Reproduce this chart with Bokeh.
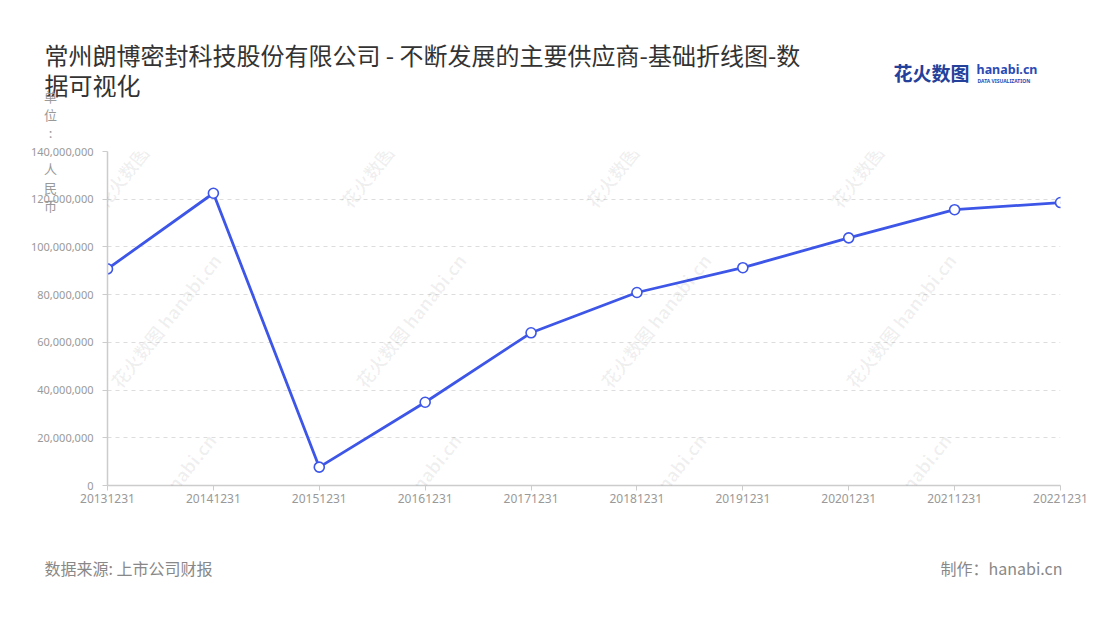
from bokeh.plotting import figure
from bokeh.models import Range1d, Label, NumeralTickFormatter, FixedTicker
from bokeh.embed import file_html
from bokeh.resources import INLINE

# ---- data ----
dates = ["20131231", "20141231", "20151231", "20161231", "20171231",
         "20181231", "20191231", "20201231", "20211231", "20221231"]
values = [90.8e6, 122.5e6, 7.7e6, 34.9e6, 64.0e6,
          80.9e6, 91.3e6, 103.8e6, 115.6e6, 118.6e6]
y_ticks = [0, 20e6, 40e6, 60e6, 80e6, 100e6, 120e6, 140e6]

title_text = "常州朗博密封科技股份有限公司 - 不断发展的主要供应商-基础折线图-数\n据可视化"
y_label = "单\n位\n:\n \n人\n民\n币"
source_text = "数据来源: 上市公司财报"
maker_text = "制作：hanabi.cn"

W, H = 1092, 612
FL, FR, FT, FB = 107, 1060, 151, 485  # frame edges (page px)
FONT = "Noto Sans CJK SC"
BLUE = "#3d56e8"


def lab(px, py, text, **kw):
    return Label(x=px, y=py, x_units="canvas", y_units="canvas", text=text, **kw)


xs = list(range(len(dates)))

p = figure(width=W, height=H, output_backend="svg", toolbar_location=None,
           x_range=Range1d(0, len(dates) - 1), y_range=Range1d(0, 140e6),
           min_border_left=FL, min_border_right=W - FR,
           min_border_top=FT, min_border_bottom=H - FB)
p.outline_line_color = None
p.background_fill_color = "white"
p.border_fill_color = "white"

# axes
p.xaxis.ticker = FixedTicker(ticks=xs)
p.xaxis.major_label_overrides = {i: d for i, d in enumerate(dates)}
p.yaxis.ticker = FixedTicker(ticks=y_ticks)
p.yaxis.formatter = NumeralTickFormatter(format="0,0")
for ax in (p.xaxis, p.yaxis):
    ax.axis_line_color = "#cccccc"
    ax.axis_line_width = 1.5
    ax.major_tick_line_color = "#cccccc"
    ax.major_tick_out = 5
    ax.major_tick_in = 0
    ax.minor_tick_line_color = None
    ax.major_label_text_color = "#999999"
    ax.major_label_text_font = "Noto Sans"
p.xaxis.major_label_text_font_size = "12px"
p.yaxis.major_label_text_font_size = "11px"
p.xaxis.major_label_standoff = 3
p.yaxis.major_label_standoff = 9

p.xgrid.grid_line_color = None
p.ygrid.grid_line_color = "#dddddd"
p.ygrid.grid_line_dash = "4 4"
p.ygrid.grid_line_width = 1

# watermarks
wm_pos = [(150, 140), (395, 140), (640, 140), (885, 140),
          (165, 320), (410, 320), (655, 320), (900, 320),
          (160, 500), (405, 500), (650, 500), (895, 500)]
for (wx, wy) in wm_pos:
    p.add_layout(lab(wx, wy, "花火数图 hanabi.cn", angle=0.9, text_font=FONT,
                     text_font_size="18px", text_font_style="bold",
                     text_color="#000000", text_alpha=0.06,
                     text_align="center", text_baseline="middle"))

# data line
p.line(xs, values, line_color=BLUE, line_width=2.8)
p.scatter(xs, values, size=10, fill_color="white", line_color=BLUE, line_width=1.6)

# title (two lines)
p.add_layout(lab(44, 36, title_text, text_font=FONT, text_font_size="24px",
                 text_color="#333333", text_baseline="top", text_line_height=0.86), "above")

# logo
p.add_layout(lab(893, 72, "花火数图", text_font=FONT, text_font_size="19px", text_font_style="bold",
                 text_color="#23409a", text_baseline="middle"), "above")
p.add_layout(lab(976, 69, "hanabi.cn", text_font="Noto Sans", text_font_size="12.5px",
                 text_font_style="bold", text_color="#2a4bb5", text_baseline="middle"), "above")
p.add_layout(lab(977, 80, "DATA VISUALIZATION", text_font="Noto Sans", text_font_size="5px",
                 text_font_style="bold", text_color="#2a4bb5", text_baseline="middle"), "above")

# y label (vertical)
p.add_layout(lab(50, 86, y_label, text_font=FONT, text_font_size="13px", text_color="#999999",
                 text_align="center", text_baseline="top", text_line_height=0.96), "left")

# footer
p.add_layout(lab(44, 567, source_text, text_font=FONT, text_font_size="16px",
                 text_color="#888888", text_baseline="middle"), "below")
p.add_layout(lab(1062, 567, maker_text, text_font=FONT, text_font_size="16px",
                 text_color="#888888", text_baseline="middle", text_align="right"), "below")

open("out.html", "w").write(file_html(p, INLINE))
